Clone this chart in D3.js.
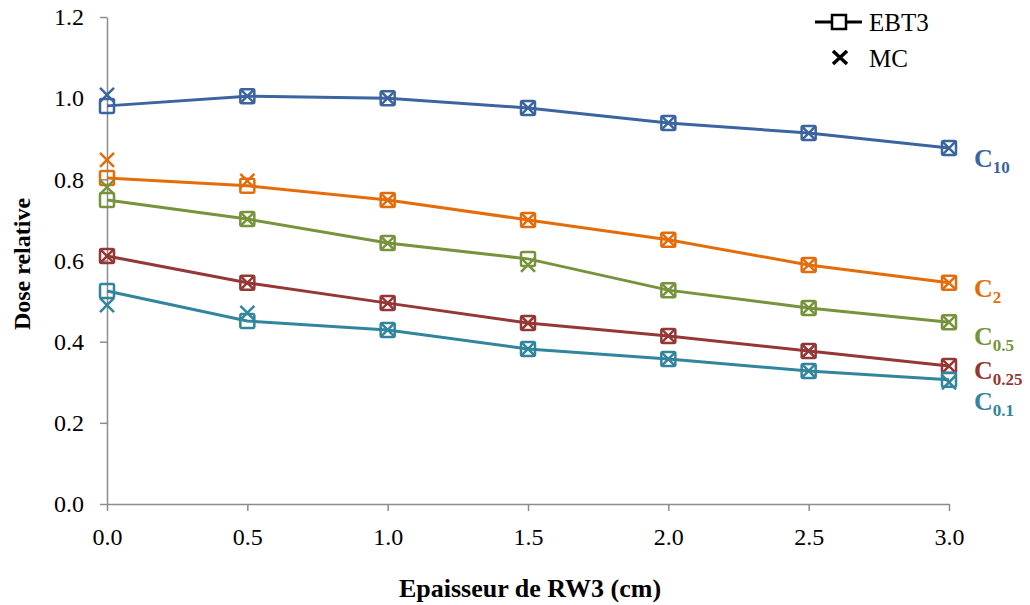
<!DOCTYPE html>
<html><head><meta charset="utf-8">
<script src="https://cdn.jsdelivr.net/npm/d3@7"></script>
<style>body{margin:0;background:#fff}svg{display:block}</style>
</head><body><svg id="c" width="1030" height="605"></svg>
<script>
const thickness = [0.0, 0.5, 1.0, 1.5, 2.0, 2.5, 3.0];
const xTicks = [0.0, 0.5, 1.0, 1.5, 2.0, 2.5, 3.0];
const yTicks = [0.0, 0.2, 0.4, 0.6, 0.8, 1.0, 1.2];
const seriesNames = ["C10", "C2", "C0.5", "C0.25", "C0.1"];
const seriesColors = ["#3B64A0", "#E46C0A", "#77933C", "#953735", "#31859C"];
const ebt3_C10  = [0.981, 1.005, 1.000, 0.976, 0.939, 0.914, 0.877];
const mc_C10    = [1.008, 1.005, 1.000, 0.976, 0.939, 0.914, 0.877];
const ebt3_C2   = [0.803, 0.784, 0.749, 0.700, 0.651, 0.589, 0.545];
const mc_C2     = [0.848, 0.796, 0.749, 0.700, 0.651, 0.589, 0.545];
const ebt3_C05  = [0.749, 0.702, 0.643, 0.604, 0.527, 0.483, 0.448];
const mc_C05    = [0.781, 0.702, 0.643, 0.589, 0.527, 0.483, 0.448];
const ebt3_C025 = [0.611, 0.545, 0.495, 0.446, 0.414, 0.377, 0.340];
const mc_C025   = [0.611, 0.545, 0.495, 0.446, 0.414, 0.377, 0.340];
const ebt3_C01  = [0.525, 0.451, 0.429, 0.382, 0.357, 0.328, 0.306];
const mc_C01    = [0.490, 0.471, 0.429, 0.382, 0.357, 0.328, 0.300];
const ebt3 = [ebt3_C10, ebt3_C2, ebt3_C05, ebt3_C025, ebt3_C01];
const mc = [mc_C10, mc_C2, mc_C05, mc_C025, mc_C01];
const labelMain = ["C","C","C","C","C"];
const labelSub = ["10","2","0.5","0.25","0.1"];

const svg = d3.select("#c");
const x = d3.scaleLinear().domain([0, 3]).range([107, 949]);
const y = d3.scaleLinear().domain([0, 1.2]).range([504, 17]);
const axisColor = "#8c8c8c";
const font = "'Liberation Serif', 'Times New Roman', serif";

const xa = svg.append("g").attr("transform", "translate(0,504)")
  .call(d3.axisBottom(x).tickValues(xTicks).tickFormat(d3.format(".1f")).tickSizeOuter(0).tickSizeInner(7).tickPadding(17));
const ya = svg.append("g").attr("transform", "translate(107,0)")
  .call(d3.axisLeft(y).tickValues(yTicks).tickFormat(d3.format(".1f")).tickSizeOuter(0).tickSizeInner(7).tickPadding(16));
[xa, ya].forEach(a => {
  a.selectAll("path,line").attr("stroke", axisColor).attr("stroke-width", 1.5);
  a.selectAll("text").attr("font-family", font).attr("font-size", 24).attr("fill", "#000");
});

svg.append("text").attr("x", 530).attr("y", 597).attr("text-anchor", "middle")
  .attr("font-family", font).attr("font-size", 26).attr("font-weight", "bold").text("Epaisseur de RW3 (cm)");
svg.append("text").attr("transform", "translate(30,264) rotate(-90)").attr("text-anchor", "middle")
  .attr("font-family", font).attr("font-size", 24).attr("font-weight", "bold").text("Dose relative");

const line = d3.line().x((d, i) => x(thickness[i])).y(d => y(d));
const sq = 14, xs = 7;
function drawX(g, cx, cy, color, sw) {
  g.append("path").attr("d", `M${cx-xs},${cy-xs}L${cx+xs},${cy+xs}M${cx+xs},${cy-xs}L${cx-xs},${cy+xs}`)
    .attr("stroke", color).attr("stroke-width", sw).attr("fill", "none");
}
seriesNames.forEach((name, s) => {
  const c = seriesColors[s];
  const g = svg.append("g");
  g.append("path").datum(ebt3[s]).attr("d", line).attr("fill", "none").attr("stroke", c).attr("stroke-width", 3);
  ebt3[s].forEach((v, i) => {
    g.append("rect").attr("x", x(thickness[i]) - sq/2).attr("y", y(v) - sq/2).attr("width", sq).attr("height", sq)
      .attr("rx", 1.5).attr("fill", "none").attr("stroke", c).attr("stroke-width", 2.5);
  });
  mc[s].forEach((v, i) => drawX(g, x(thickness[i]), y(v), c, 2.5));
});

const labelY = [167, 297, 345, 379, 410];
seriesNames.forEach((name, s) => {
  const t = svg.append("text").attr("x", 974).attr("y", labelY[s]).attr("font-family", font)
    .attr("font-weight", "bold").attr("fill", seriesColors[s]).attr("font-size", 26);
  t.append("tspan").text(labelMain[s]);
  t.append("tspan").attr("font-size", 17).attr("dy", 6).text(labelSub[s]);
});

// legend
const lg = svg.append("g");
lg.append("line").attr("x1", 815).attr("x2", 862).attr("y1", 22).attr("y2", 22).attr("stroke", "#000").attr("stroke-width", 3);
lg.append("rect").attr("x", 832).attr("y", 15).attr("width", 14).attr("height", 14).attr("fill", "#fff").attr("stroke", "#000").attr("stroke-width", 2.5);
lg.append("path").attr("d", "M833,51L847,64M847,51L833,64").attr("stroke", "#000").attr("stroke-width", 3.5).attr("fill", "none");
lg.append("text").attr("x", 869).attr("y", 31).attr("font-family", font).attr("font-size", 25).text("EBT3");
lg.append("text").attr("x", 869).attr("y", 67).attr("font-family", font).attr("font-size", 25).text("MC");
</script></body></html>
